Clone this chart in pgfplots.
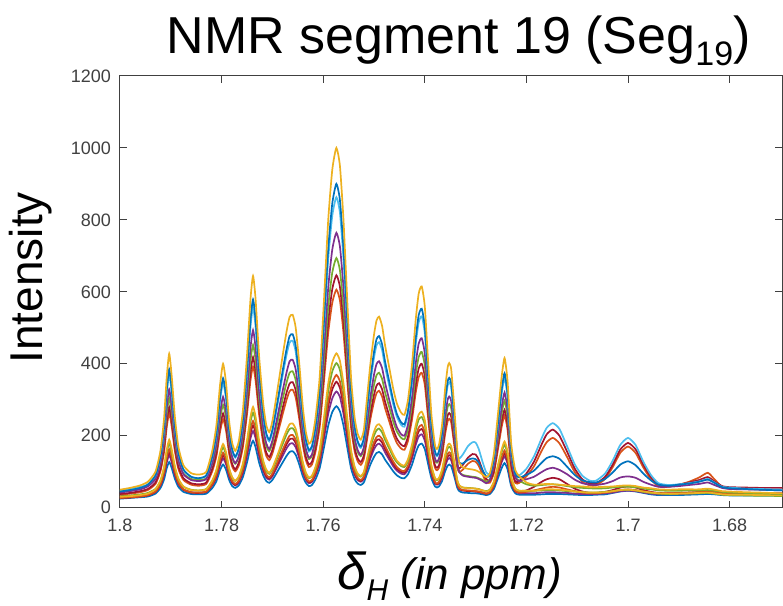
\documentclass[border=0pt]{standalone}
\usepackage{pgfplots}
\pgfplotsset{compat=1.18}
\usepackage{pgfplotstable}
\usepackage{fontspec}
\setmainfont{Liberation Sans}
\definecolor{mblue}{rgb}{0,0.447,0.741}
\definecolor{morange}{rgb}{0.85,0.325,0.098}
\definecolor{myellow}{rgb}{0.929,0.694,0.125}
\definecolor{mpurple}{rgb}{0.494,0.184,0.556}
\definecolor{mgreen}{rgb}{0.466,0.674,0.188}
\definecolor{mcyan}{rgb}{0.301,0.745,0.933}
\definecolor{mred}{rgb}{0.635,0.078,0.184}
\definecolor{axgray}{rgb}{0.25,0.25,0.25}
\pgfplotstableread{
x H1 H2 H3 H4 H5 H6 H7 L1 L2 L3 L4 L5 L6
1.8000 50 45 46 42 48 38 36 30 32 27 27 29 25
1.7980 55 49 51 46 52 41 39 32 34 29 28 30 27
1.7960 62 55 57 51 57 46 43 35 37 31 31 32 29
1.7945 72 64 65 59 63 52 49 39 41 35 34 35 31
1.7930 100 90 89 80 82 70 66 51 52 45 44 44 39
1.7920 160 144 141 125 123 109 102 76 75 66 64 63 55
1.7913 250 225 218 194 184 166 156 114 110 99 95 91 79
1.7908 360 324 313 277 259 237 222 160 153 138 132 125 109
1.7903 428 385 371 329 305 280 263 189 179 163 155 146 127
1.7898 365 328 317 281 263 240 225 162 155 140 134 126 110
1.7892 255 229 223 198 188 169 159 116 112 101 96 92 81
1.7885 170 153 150 133 130 115 108 81 79 70 68 66 58
1.7875 118 106 105 93 95 82 77 59 58 51 50 50 44
1.7860 96 86 86 77 80 68 64 49 50 43 42 43 38
1.7845 92 82 82 74 77 65 61 48 48 42 41 42 37
1.7830 100 90 89 80 82 70 66 51 52 45 44 44 39
1.7818 160 144 141 125 123 109 102 76 75 66 64 63 55
1.7810 230 207 201 179 171 153 144 106 102 92 88 84 74
1.7803 340 306 296 262 246 224 210 152 145 131 125 118 104
1.7797 400 360 347 308 286 262 246 177 168 153 146 137 120
1.7791 345 310 300 266 249 227 213 154 147 133 127 120 105
1.7785 240 216 210 186 178 160 150 110 106 95 91 87 77
1.7779 180 162 158 141 137 121 114 85 83 74 71 69 60
1.7773 158 142 139 124 122 107 101 75 74 66 63 62 55
1.7766 185 166 162 144 140 125 117 87 85 75 73 70 62
1.7758 270 243 236 209 198 179 168 123 118 106 102 97 85
1.7750 420 378 365 323 300 275 258 186 176 160 153 143 125
1.7743 580 522 502 445 409 377 354 253 239 218 207 193 168
1.7738 644 579 557 493 452 418 392 280 264 241 229 213 186
1.7733 580 522 502 445 409 377 354 253 239 218 207 193 168
1.7726 420 378 365 323 300 275 258 186 176 160 153 143 125
1.7718 290 261 253 224 212 192 180 131 126 113 108 103 90
1.7712 230 207 201 179 171 153 144 106 102 92 88 84 74
1.7706 210 189 184 163 157 141 132 97 94 84 81 78 69
1.7700 240 216 210 186 178 160 150 110 106 95 91 87 77
1.7693 300 270 261 232 218 198 186 135 129 117 112 106 93
1.7687 355 319 309 274 256 233 219 158 151 137 130 123 108
1.7680 420 378 365 323 300 275 258 186 176 160 153 143 125
1.7672 490 441 425 376 348 320 300 215 204 185 176 165 144
1.7666 530 477 459 407 375 345 324 232 219 200 190 177 155
1.7660 536 482 464 411 379 349 328 234 221 202 192 179 157
1.7654 500 450 433 384 354 326 306 219 207 189 180 168 147
1.7647 400 360 347 308 286 262 246 177 168 153 146 137 120
1.7640 280 252 244 217 205 185 174 127 122 110 105 100 87
1.7634 210 189 184 163 157 141 132 97 94 84 81 78 69
1.7628 178 160 156 139 135 120 113 84 82 73 70 68 60
1.7622 190 171 167 148 144 128 120 89 87 77 74 72 63
1.7615 250 225 218 194 184 166 156 114 110 99 95 91 79
1.7607 360 324 313 277 259 237 222 160 153 138 132 125 109
1.7599 560 504 485 429 395 365 342 244 231 210 200 187 163
1.7590 800 720 691 612 558 518 486 345 324 297 282 261 228
1.7582 940 846 812 718 654 608 570 404 379 347 329 304 266
1.7574 1000 900 863 764 694 646 606 429 402 369 350 323 282
1.7567 950 855 820 726 660 614 576 408 383 351 333 308 268
1.7560 800 720 691 612 558 518 486 345 324 297 282 261 228
1.7552 560 504 485 429 395 365 342 244 231 210 200 187 163
1.7545 360 324 313 277 259 237 222 160 153 138 132 125 109
1.7538 250 225 218 194 184 166 156 114 110 99 95 91 79
1.7532 205 184 180 160 154 137 129 95 92 83 79 77 67
1.7526 189 170 166 147 143 127 119 88 86 77 74 72 63
1.7520 215 193 188 167 161 144 135 99 96 86 83 80 70
1.7514 300 270 261 232 218 198 186 135 129 117 112 106 93
1.7507 400 360 347 308 286 262 246 177 168 153 146 137 120
1.7500 480 432 416 369 341 313 294 211 200 182 173 162 141
1.7495 520 468 451 399 368 339 318 228 215 196 187 174 152
1.7490 531 477 460 407 375 346 325 232 220 200 190 178 155
1.7484 505 454 438 388 358 329 309 221 209 191 181 170 148
1.7478 450 405 390 346 320 294 276 198 188 171 163 153 133
1.7470 390 351 339 300 280 256 240 173 165 149 142 134 117
1.7462 330 297 287 255 239 217 204 148 141 128 122 115 101
1.7455 290 261 253 224 212 192 180 131 126 113 108 103 90
1.7447 265 238 231 205 195 176 165 120 116 104 100 95 83
1.7440 258 232 225 200 190 171 161 117 113 102 97 93 82
1.7433 300 270 261 232 218 198 186 135 129 117 112 106 93
1.7425 400 360 347 308 286 262 246 177 168 153 146 137 120
1.7418 520 468 451 399 368 339 318 228 215 196 187 174 152
1.7412 595 535 515 456 419 387 363 259 245 223 212 198 173
1.7406 615 553 532 471 433 400 375 267 252 230 219 204 178
1.7400 560 504 485 429 395 365 342 244 231 210 200 187 163
1.7394 420 378 365 323 300 275 258 186 176 160 153 143 125
1.7387 260 234 227 201 191 173 162 118 114 102 98 94 82
1.7380 175 157 154 137 133 118 111 83 81 72 69 67 59
1.7376 163 146 143 128 125 111 104 78 76 67 65 64 56
1.7372 175 157 154 137 133 118 111 83 81 72 69 67 59
1.7366 230 207 201 179 171 153 144 106 102 92 88 84 74
1.7360 330 297 287 255 239 217 204 148 141 128 122 115 101
1.7355 390 351 339 300 280 256 240 173 165 149 142 134 117
1.7352 402 361 349 309 288 263 247 178 169 154 146 138 120
1.7348 385 346 334 296 276 253 237 171 163 147 141 132 116
1.7342 280 252 244 217 205 185 174 127 122 110 105 100 87
1.7336 160 150 154 125 123 120 111 76 75 66 64 63 55
1.7332 125 125 137 99 99 109 99 62 61 54 52 52 46
1.7325 112 123 148 89 91 119 106 56 56 49 48 48 42
1.7315 108 133 171 86 88 139 122 54 55 48 46 47 41
1.7306 106 137 182 84 86 149 130 54 54 47 46 46 40
1.7300 104 135 181 83 85 148 128 53 53 46 45 45 40
1.7294 100 126 164 80 82 134 117 51 52 45 44 44 39
1.7286 92 103 126 74 77 103 91 48 48 42 41 42 37
1.7279 85 87 98 68 72 80 72 45 46 39 39 39 35
1.7272 95 89 94 76 79 75 69 49 50 43 42 43 38
1.7264 150 135 132 118 116 102 96 72 71 63 61 60 52
1.7256 260 234 227 201 191 173 162 118 114 102 98 94 82
1.7249 360 324 313 277 259 237 222 160 153 138 132 125 109
1.7243 416 374 361 320 297 272 256 184 175 159 151 142 124
1.7237 350 315 304 270 252 230 216 156 149 135 129 122 106
1.7230 180 162 158 141 137 121 114 85 83 74 71 69 60
1.7222 105 94 94 84 86 73 69 53 53 47 45 46 40
1.7214 88 84 90 74 75 74 69 47 47 42 43 40 36
1.7200 70 91 108 79 65 95 87 47 47 44 48 40 36
1.7185 64 103 143 86 61 128 115 47 47 48 58 40 36
1.7170 65 125 193 99 63 176 158 50 48 53 72 42 37
1.7160 66 138 222 107 64 204 182 51 49 56 79 43 38
1.7148 65 143 235 111 65 217 194 51 49 58 83 43 38
1.7135 64 136 219 105 63 200 179 50 48 56 79 42 38
1.7120 62 114 171 93 60 156 141 48 46 51 66 41 37
1.7105 60 91 121 78 57 109 99 45 45 46 53 39 36
1.7090 59 76 89 68 55 79 72 43 43 42 45 38 35
1.7075 57 71 75 64 54 67 62 42 42 40 41 38 35
1.7063 57 70 75 63 53 67 62 42 42 40 41 38 36
1.7045 58 80 95 67 54 86 80 43 44 42 44 40 37
1.7030 59 98 131 74 56 120 113 46 46 45 49 42 41
1.7015 61 120 175 84 58 162 153 49 49 49 56 46 45
1.7000 62 129 194 87 58 180 170 50 50 51 59 47 47
1.6985 60 118 174 83 57 162 152 48 48 49 56 46 45
1.6970 56 95 128 72 53 120 112 45 44 45 49 42 41
1.6955 54 76 91 64 51 85 79 42 41 42 44 39 37
1.6940 51 64 68 58 48 64 59 40 39 40 41 37 35
1.6920 50 61 63 58 47 61 58 39 38 40 40 37 35
1.6900 51 64 65 60 47 64 64 39 39 41 41 38 35
1.6880 51 67 68 63 48 70 72 40 39 42 42 39 36
1.6860 51 72 73 66 48 77 84 41 40 44 43 41 37
1.6843 53 78 80 70 49 85 97 42 41 47 45 43 38
1.6830 50 69 70 63 47 73 79 40 39 43 43 40 37
1.6815 46 57 58 55 44 60 58 37 36 40 41 37 35
1.6800 45 54 56 52 42 57 52 36 35 38 40 36 34
1.6770 43 52 53 51 41 56 51 36 34 38 40 36 34
1.6740 42 50 52 50 40 55 51 35 33 38 40 36 34
1.6720 41 49 51 49 39 55 50 35 33 38 40 36 34
1.6696 40 48 50 48 38 55 50 34 32 38 40 36 34
}\spec
\begin{document}
\begin{tikzpicture}
\path[use as bounding box] (-60pt,-49pt) rectangle (331.75pt,254pt);
\begin{axis}[
  at={(0,0)}, anchor=south west,
  scale only axis, width=331.5pt, height=216pt,
  xmin=1.6696, xmax=1.8, ymin=0, ymax=1200, x dir=reverse,
  xtick={1.68,1.7,1.72,1.74,1.76,1.78,1.8},
  xticklabels={1.68,1.7,1.72,1.74,1.76,1.78,1.8},
  ytick={0,200,400,600,800,1000,1200},
  yticklabels={0,200,400,600,800,1000,1200},
  tick align=inside, major tick length=3.5pt,
  axis line style={draw=axgray, line width=0.5pt},
  tick style={draw=axgray, line width=0.5pt},
  tick label style={font=\fontsize{9}{10}\selectfont, text=axgray},
  xticklabel style={yshift=-2pt},
  yticklabel style={xshift=-1pt},
  /pgf/number format/assume math mode=true,
  every axis plot/.append style={line width=0.85pt, no marks, smooth, tension=0.35},
]
\addplot[mblue]   table[x=x,y=L6]{\spec};
\addplot[mpurple] table[x=x,y=L5]{\spec};
\addplot[mred]    table[x=x,y=L4]{\spec};
\addplot[morange] table[x=x,y=L3]{\spec};
\addplot[mgreen]  table[x=x,y=L2]{\spec};
\addplot[myellow] table[x=x,y=L1]{\spec};
\addplot[morange] table[x=x,y=H7]{\spec};
\addplot[mred]    table[x=x,y=H6]{\spec};
\addplot[mgreen]  table[x=x,y=H5]{\spec};
\addplot[mpurple] table[x=x,y=H4]{\spec};
\addplot[mcyan]   table[x=x,y=H3]{\spec};
\addplot[mblue]   table[x=x,y=H2]{\spec};
\addplot[myellow] table[x=x,y=H1]{\spec};
\end{axis}
\node[anchor=base, inner sep=0pt, font=\fontsize{26}{30}\selectfont] at (169.5pt,227pt)
  {NMR segment 19 (Seg\raisebox{-0.22em}{\fontsize{17}{17}\selectfont 19})};
\node[anchor=base, rotate=90, inner sep=0pt, font=\fontsize{23}{26}\selectfont] at (-38.5pt,115pt) {Intensity};
\node[anchor=base, inner sep=0pt, font=\fontsize{22}{26}\selectfont\itshape] at (165pt,-41pt)
  {{\fontsize{26}{28}\selectfont δ}\raisebox{-0.25em}{\fontsize{15}{15}\selectfont H} (in ppm)};
\end{tikzpicture}
\end{document}
